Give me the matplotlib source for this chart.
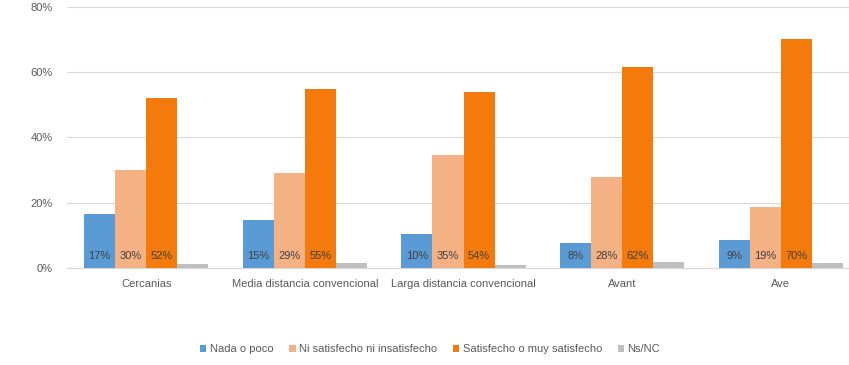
import numpy as np
import matplotlib
matplotlib.use("Agg")
import matplotlib.pyplot as plt

categories = ["Cercanias", "Media distancia convencional", "Larga distancia convencional", "Avant", "Ave"]
series = ["Nada o poco", "Ni satisfecho ni insatisfecho", "Satisfecho o muy satisfecho", "Ns/NC"]
nada = [16.6, 14.6, 10.4, 7.8, 8.7]
ni = [30.0, 29.0, 34.6, 28.0, 18.8]
satisf = [52.0, 55.0, 54.0, 61.7, 70.3]
nsnc = [1.2, 1.5, 1.0, 1.8, 1.5]
colors = ["#5B9BD5", "#F4B183", "#F47A0C", "#BFBFBF"]
labelled = [True, True, True, False]

plt.rcParams['font.family'] = ['Liberation Sans', 'DejaVu Sans']

fig = plt.figure(figsize=(8.49, 3.65), dpi=100)
ax = fig.add_axes([67 / 849, 0.2658, 1 - 67 / 849 + 0.013, 0.7151])

x = np.arange(len(categories))
w = 0.196
data = [nada, ni, satisf, nsnc]
for i, vals in enumerate(data):
    pos = x + (i - 1.5) * w
    ax.bar(pos, vals, w, color=colors[i], label=series[i], zorder=3)
    if labelled[i]:
        for p, v in zip(pos, vals):
            ax.text(p, 2.2, f"{v:.0f}%", ha="center", va="bottom",
                    fontsize=8, color="#404040", zorder=4)

ax.set_ylim(0, 80)
ax.set_yticks([0, 20, 40, 60, 80])
ax.set_yticklabels([f"{t}%" for t in [0, 20, 40, 60, 80]])
ax.set_xlim(-0.5, 4.5)
ax.set_xticks(x)
ax.set_xticklabels(categories)
ax.grid(axis="y", color="#D9D9D9", linewidth=0.8, zorder=0)
for s in ["top", "right", "left"]:
    ax.spines[s].set_visible(False)
ax.spines["bottom"].set_color("#D9D9D9")
ax.tick_params(axis="both", length=0, labelsize=8, colors="#595959")
ax.tick_params(axis="x", pad=8)
ax.tick_params(axis="y", pad=10)

ax.legend(loc="center", bbox_to_anchor=(430 / 849, 16 / 365), bbox_transform=fig.transFigure,
          ncol=4, frameon=False, fontsize=8, handlelength=0.6, handleheight=0.6,
          handletextpad=0.3, columnspacing=1.4, labelcolor="#595959")

fig.savefig("out.png", dpi=100)
